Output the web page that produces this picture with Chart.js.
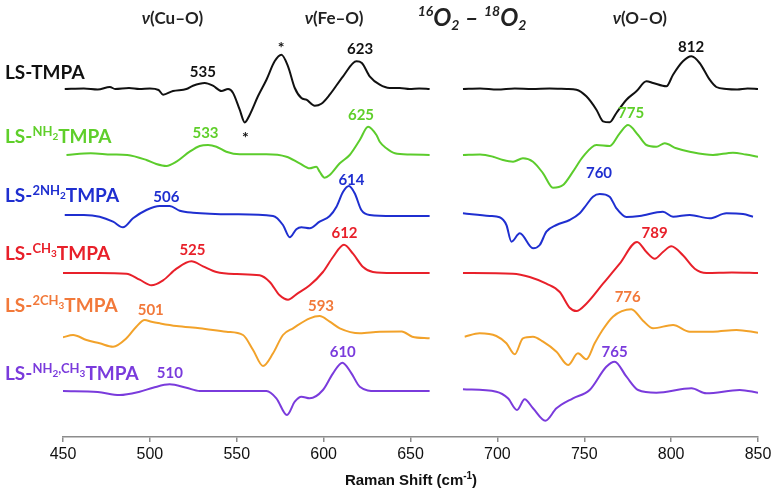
<!DOCTYPE html>
<html>
<head>
<meta charset="utf-8">
<script src="https://cdn.jsdelivr.net/npm/chart.js@4.4.1/dist/chart.umd.min.js"></script>
<style>
html,body{margin:0;padding:0;background:#fff;}
#wrap{width:776px;height:492px;position:relative;}
</style>
</head>
<body>
<div id="wrap"><canvas id="c" width="776" height="492"></canvas></div>
<script>
// x tick values (Raman shift, cm-1)
const xTicks = [450, 500, 550, 600, 650, 700, 750, 800, 850];
// Series names
const seriesNames = ['LS-TMPA', 'LS-NH2TMPA', 'LS-2NH2TMPA', 'LS-CH3TMPA', 'LS-2CH3TMPA', 'LS-NH2,CH3TMPA'];
// vertical offsets of each trace (stacked spectra)
const offsets = [348, 282, 222, 164, 102, 46];
// [shift, intensity] for each trace; null marks the gap in the measured range
const tmpa = [[451,0],[462,0.5],[470,-0.5],[477,2],[480,0],[488,1],[494,0],[500,0.5],[505,-1],[507.6,-5.7],[513.3,-2],[521,0],[524.8,3.3],[531.6,6],[536.3,3.3],[541.2,-2],[545,0],[547.8,-3.7],[551.7,-20.7],[554.6,-33.4],[557.5,-25.7],[562.2,-7.3],[567.1,9.3],[571.8,27.7],[575.7,34.3],[579.5,22.7],[583.4,1],[587.2,-9],[590.1,-10.7],[594.9,-16.7],[598.7,-14.7],[603.5,-5.7],[611.2,12.7],[618.9,27.7],[622,26],[626.5,12.7],[632.3,4.3],[638,1],[643.8,1],[649.5,0],[655,0.5],[661,0],
  [670,null],
  [680.2,0],[690,0.5],[700,-0.5],[710,0.5],[720,0],[730,0.5],[740,0],[745.5,-0.7],[751.2,-7.3],[757,-20.7],[760.8,-32.3],[764.6,-33.3],[768.5,-24],[774.3,-10.7],[780,-2.3],[785.8,7.7],[789.6,6],[797.3,2.7],[801.1,14.3],[806.8,27.7],[811.7,32.7],[816.4,26],[822.2,9.3],[826,2],[831.8,0],[838,-0.5],[844,0.5],[850,0]];
const nh2 = [[452,0],[466,1.7],[478,0.5],[487,0],[498,-5],[503.7,-9],[509.5,-11],[515.3,-6.7],[522.9,3.3],[528.7,9],[533.5,10],[538.3,8.3],[544,3.3],[551.7,0.7],[567,0.7],[578.6,-1.7],[586.2,-8.3],[592,-13.3],[595.8,-11.7],[597.7,-16.7],[600.6,-22.7],[603.5,-20],[609.3,-8.3],[615,0],[620.8,15],[625.6,28.3],[630.4,20],[632.3,13.3],[636.1,6.7],[641,1.7],[650,0.5],[661,0],
  [670,null],
  [680.2,0],[690,0.5],[697.5,-1.7],[703.2,-5],[709,-6.7],[714.7,-3.3],[720.5,-6.7],[726.3,-18.3],[732,-32.7],[737.8,-30],[743.5,-16.7],[749.3,-1.7],[757,10],[764.7,9],[770.4,21.7],[775.2,30],[781,20],[785.8,10],[791.5,8.3],[796.3,11.7],[803,6.7],[810.7,3.3],[824.1,0],[835.6,2.3],[843,0.5],[850,-1.7]];
const nh2x2 = [[451,0],[462,0],[471.1,-1.7],[478.8,-6.7],[484.5,-12.3],[490.3,-3.3],[498,5],[505.7,9],[511.4,9],[517.2,4.3],[524.8,2.3],[547.8,0.7],[570.9,-1],[576.6,-10],[580.5,-22.3],[584.3,-14.3],[587.2,-12.3],[592,-13.3],[597.7,-6.7],[603.5,-1],[607.4,8.3],[611.2,23.3],[614.6,29],[617.9,21.7],[621.7,5],[626.5,0],[640,-1],[661,-1],
  [670,null],
  [680.2,1.7],[695.6,-1],[701.3,-2.3],[705.2,-10],[708.1,-26.7],[712.9,-18.3],[720.5,-33.3],[724.4,-30],[728.2,-16.7],[734,-10],[741.6,-5],[747.4,1.7],[751.2,10],[755,18.3],[758.9,21],[764.6,18.3],[768.5,6.7],[774.3,-2],[781.9,-1],[795.3,3.3],[801.1,-1.7],[810.7,0],[822.2,-3.3],[831.8,1.7],[841.4,1],[847.1,-1.7]];
const ch3 = [[450,0],[470,0],[486.5,-0.7],[494.1,-6.7],[500.9,-12.3],[507.6,-7.3],[515.3,4.3],[523.9,11.7],[530.6,6.7],[538.3,1],[550,-1],[563.2,-2.3],[569,-9],[574.7,-22.3],[579.5,-26.7],[584.3,-21.3],[592,-12.3],[599.6,1],[605.4,16],[611.7,28.3],[616.9,19.3],[622.7,6],[628.4,1],[640,0],[661,0],
  [670,null],
  [680.2,0],[709,-0.7],[718.6,-4],[728.2,-10.7],[735.9,-19],[741.6,-34.7],[745.5,-38],[751.2,-30.7],[760.8,-10.7],[770.4,9.3],[780.4,31],[785.8,21],[790.6,14.3],[795.3,21],[800.1,26.7],[806.8,17.7],[813.6,4.3],[820.3,0],[835,0.5],[850,0]];
const ch3x2 = [[450,-2.3],[455.8,0],[463.5,-5],[471.1,-8.3],[478.8,-11.7],[486.5,-3.3],[492.2,8.3],[497,15],[500.9,13.3],[505.7,11.7],[515.3,9],[528.7,6.7],[544,3.3],[553.6,0],[559.4,-15],[565.1,-31],[570.9,-18.3],[576.6,0],[582.4,6.7],[592,16.7],[597.7,19],[603.5,13.3],[609.3,6.7],[620.8,1.7],[632.3,3.3],[645,3.5],[651,-1.7],[661,-3.3],
  [670,null],
  [681.2,-1.7],[689.8,1.7],[699.4,-1],[705.2,-8.3],[710,-19.3],[714.7,-3.3],[720.5,-1.7],[726.3,-6.7],[734,-16.7],[740.7,-30],[746.4,-18.3],[751.2,-24.3],[756,-8.3],[759.9,3.3],[766.5,18.3],[777.1,25.7],[783.8,14.3],[789.6,6.7],[801.1,10],[810.7,3.3],[824.1,3.3],[837.6,5],[850,2.3]];
const nh2ch3 = [[450,0],[470,-1],[482.6,-4],[494.1,-0.7],[501.8,3.3],[511.4,6.7],[521,3.3],[528.7,0],[567.1,0],[572.8,-7.3],[578.9,-24],[583.4,-10.7],[587.2,-5.7],[592,-7.3],[599.6,1],[605.4,17.7],[610.8,28.3],[616,17.7],[620.8,4.3],[630,0],[661,0],
  [670,null],
  [680.2,1.7],[699.4,-0.7],[706.1,-7.3],[711.3,-19],[715.7,-8.3],[720.5,-17.3],[727.6,-29.7],[734,-17.3],[743.5,-7.3],[753.1,1],[762.7,24.3],[767.5,29.3],[774.3,14.3],[781,1],[791.5,-1.7],[811.7,2.7],[820.3,-2.3],[839.5,1],[850,-1.7]];
const traces = [tmpa, nh2, nh2x2, ch3, ch3x2, nh2ch3];
const lineColors = ['#111111', '#5ccc2c', '#1f2fd0', '#e8202a', '#f2a22a', '#7a3bdc'];
const labelColors = ['#111111', '#5fcf2a', '#1f2fd0', '#e8202a', '#f2793a', '#7a3bdc'];
// peak annotations: [series, text, shift position, height]
const peakLabels = [
  [0, '535', 530.5, 365], [0, '623', 621, 388], [0, '812', 811.5, 390],
  [1, '533', 532, 304], [1, '625', 621.5, 322], [1, '775', 777, 324],
  [2, '506', 509.5, 240], [2, '614', 616, 257], [2, '760', 758.5, 264],
  [3, '525', 524.5, 187], [3, '612', 612, 204], [3, '789', 790.5, 204],
  [4, '501', 500.5, 127], [4, '593', 598.5, 131], [4, '776', 775, 140],
  [5, '510', 511.5, 64], [5, '610', 611, 85], [5, '765', 767.5, 85]
];

const datasets = traces.map((pts, i) => ({
  label: seriesNames[i],
  data: pts.map(([x, v]) => ({x: x, y: v === null ? null : offsets[i] + v})),
  borderColor: lineColors[i],
  borderWidth: 2,
  pointRadius: 0,
  cubicInterpolationMode: 'monotone',
  spanGaps: false,
  fill: false
}));

function drawRich(ctx, x, y, parts, color) {
  ctx.fillStyle = color;
  ctx.textBaseline = 'alphabetic';
  ctx.textAlign = 'left';
  let cx = x;
  parts.forEach(p => {
    ctx.font = (p.st || 'bold') + ' ' + p.s + 'px ' + (p.fam || 'Lato, sans-serif');
    ctx.fillText(p.t, cx, y + (p.dy || 0));
    cx += ctx.measureText(p.t).width + (p.gap || 0);
  });
  return cx - x;
}
function richWidth(ctx, parts) {
  let w = 0;
  parts.forEach(p => {
    ctx.font = (p.st || 'bold') + ' ' + p.s + 'px ' + (p.fam || 'Lato, sans-serif');
    w += ctx.measureText(p.t).width + (p.gap || 0);
  });
  return w;
}

const labelParts = [
  [{t:'LS-TMPA', s:19}],
  [{t:'LS-', s:19}, {t:'NH', s:13, dy:-7}, {t:'2', s:10, dy:-3}, {t:'TMPA', s:19}],
  [{t:'LS-', s:19}, {t:'2NH', s:13, dy:-7}, {t:'2', s:10, dy:-3}, {t:'TMPA', s:19}],
  [{t:'LS-', s:19}, {t:'CH', s:13, dy:-7}, {t:'3', s:10, dy:-3}, {t:'TMPA', s:19}],
  [{t:'LS-', s:19}, {t:'2CH', s:13, dy:-7}, {t:'3', s:10, dy:-3}, {t:'TMPA', s:19}],
  [{t:'LS-', s:19}, {t:'NH', s:13, dy:-7}, {t:'2', s:10, dy:-3}, {t:',CH', s:13, dy:-7}, {t:'3', s:10, dy:-3}, {t:'TMPA', s:19}]
];
const labelY = [79, 143, 202, 260, 312, 380];

const annot = {
  id: 'annot',
  afterDraw(chart) {
    const ctx = chart.ctx;
    const xs = chart.scales.x, ys = chart.scales.y;
    ctx.save();
    labelParts.forEach((parts, i) => drawRich(ctx, 5, labelY[i], parts, labelColors[i]));
    ctx.font = 'bold 15px Lato, sans-serif';
    ctx.textAlign = 'center';
    ctx.textBaseline = 'middle';
    peakLabels.forEach(([si, t, xv, yv]) => {
      ctx.fillStyle = labelColors[si];
      ctx.fillText(t, xs.getPixelForValue(xv), ys.getPixelForValue(yv));
    });
    ctx.fillStyle = '#111';
    ctx.font = 'bold 16px Lato, sans-serif';
    ctx.fillText('*', xs.getPixelForValue(575.5), ys.getPixelForValue(389));
    ctx.fillText('*', xs.getPixelForValue(555), ys.getPixelForValue(299));
    const hdr = (txt, xv) => {
      const parts = [{t:'ν', s:17, st:'italic bold'}, {t:'(' + txt + ')', s:17}];
      const w = richWidth(ctx, parts);
      drawRich(ctx, xs.getPixelForValue(xv) - w / 2, 24, parts, '#222');
    };
    hdr('Cu–O', 513);
    hdr('Fe–O', 606);
    hdr('O–O', 782);
    const iso = [{t:'16', s:14, st:'italic bold', dy:-10}, {t:'O', s:24, st:'italic bold'}, {t:'2', s:14, st:'italic bold', dy:4}, {t:' – ', s:24, st:'italic bold'},
                 {t:'18', s:14, st:'italic bold', dy:-10}, {t:'O', s:24, st:'italic bold'}, {t:'2', s:14, st:'italic bold', dy:4}];
    const wi = richWidth(ctx, iso);
    drawRich(ctx, 472 - wi / 2, 26, iso, '#222');
    const at = [{t:'Raman Shift (cm', s:15, fam:'"Liberation Sans", Arial, sans-serif'}, {t:'-1', s:10, dy:-6, fam:'"Liberation Sans", Arial, sans-serif'}, {t:')', s:15, fam:'"Liberation Sans", Arial, sans-serif'}];
    const wa = richWidth(ctx, at);
    drawRich(ctx, 411 - wa / 2, 485, at, '#111');
    ctx.restore();
  }
};

new Chart(document.getElementById('c'), {
  type: 'line',
  data: { datasets: datasets },
  options: {
    responsive: false,
    animation: false,
    plugins: { legend: { display: false }, tooltip: { enabled: false } },
    layout: { padding: { left: 63, right: 18, top: 0, bottom: 0 } },
    scales: {
      x: {
        type: 'linear',
        min: 450, max: 850,
        afterBuildTicks: (s) => { s.ticks = xTicks.map(v => ({value: v})); },
        afterFit: (s) => { s.height = 55; },
        grid: { display: true, drawOnChartArea: false, drawTicks: true, tickLength: 5, color: '#8c8c8c', lineWidth: 1.5 },
        border: { display: true, color: '#8c8c8c', width: 1.5 },
        ticks: { color: '#111', font: { family: '"Liberation Sans", Arial, sans-serif', size: 16 }, padding: 3, maxRotation: 0 }
      },
      y: {
        type: 'linear',
        display: false,
        min: 0, max: 437
      }
    }
  },
  plugins: [annot]
});
</script>
</body>
</html>
